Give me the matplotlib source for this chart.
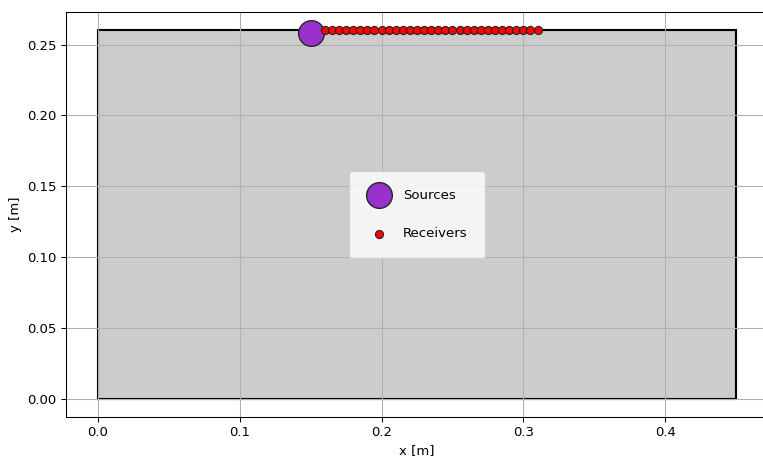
import matplotlib
matplotlib.use("Agg")
import matplotlib.pyplot as plt
from matplotlib.patches import Rectangle

# Domain extent [m]
domain_width = 0.45
domain_height = 0.26

# Source position [m]
source_x = [0.15]
source_y = [0.258]

# Receiver line along the top surface [m]
receiver_x = [0.160, 0.165, 0.170, 0.175, 0.180, 0.185, 0.190, 0.195, 0.200,
              0.205, 0.210, 0.215, 0.220, 0.225, 0.230, 0.235, 0.240, 0.245,
              0.250, 0.255, 0.260, 0.265, 0.270, 0.275, 0.280, 0.285, 0.290,
              0.295, 0.300, 0.305, 0.310]
receiver_y = [0.26] * len(receiver_x)

DPI = 95
fig = plt.figure(figsize=(763 / DPI, 457 / DPI), dpi=DPI)
ax = fig.add_axes([0.0865, 0.0875, 0.92, 0.8862])

ax.add_patch(Rectangle((0, 0), domain_width, domain_height,
                       facecolor="#cccccc", edgecolor="black", linewidth=1.6))

ax.scatter(source_x, source_y, s=380, c="darkorchid", edgecolors="#222222",
           linewidths=1.0, label="Sources", zorder=3)
ax.scatter(receiver_x, receiver_y, s=38, c="red", edgecolors="#222222",
           linewidths=0.8, label="Receivers", zorder=4)

ax.set_xlim(-0.0225, 0.4725)
ax.set_ylim(-0.013, 0.273)
ax.grid(True)
ax.set_xlabel("x [m]")
ax.set_ylabel("y [m]")

ax.legend(loc="center", borderpad=1.3, labelspacing=1.95)

fig.savefig("out.png", dpi=DPI)
